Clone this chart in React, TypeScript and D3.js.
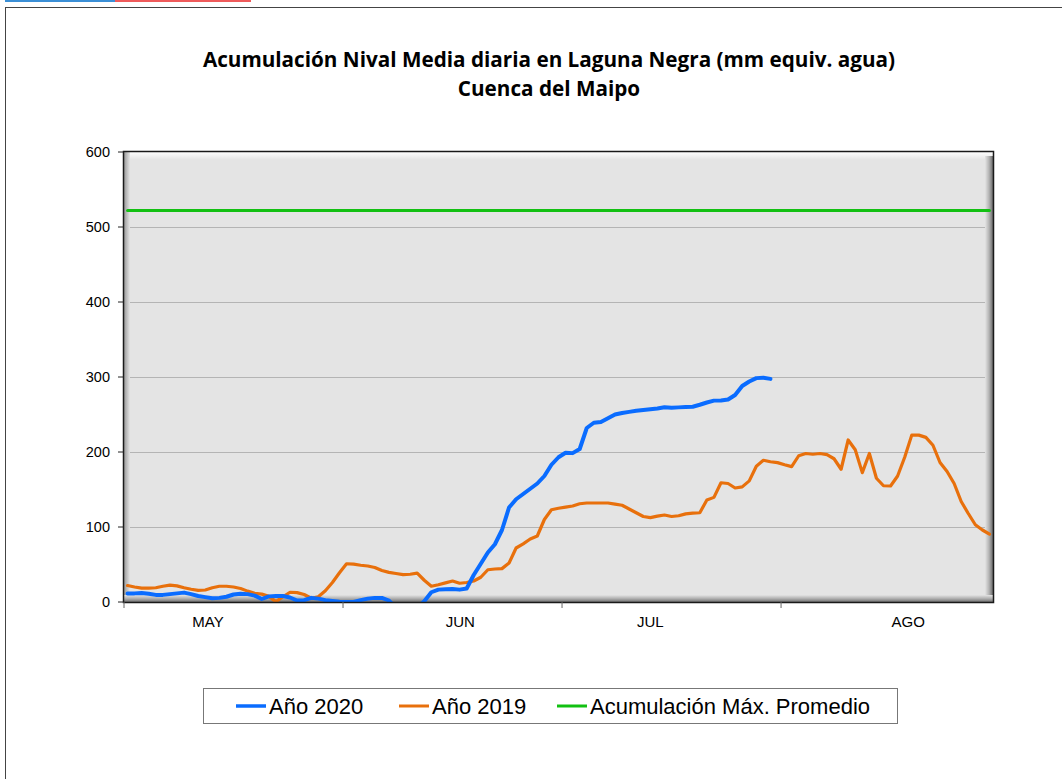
import React from 'react';
import * as d3 from 'd3';

// days from 1 May, one value per day (mm equiv. agua)
const serie2020 = [
  11.5, 11.5, 12, 11, 9.5, 9.5, 10.5, 11.5, 12.5, 10.5,
  8, 6.5, 5, 5.5, 7, 10, 11, 10.5, 8.5, 4,
  7.5, 8, 8, 6, 2, 2.5, 5.5, 4.5, 2.5, 1.5,
  0.5, 0, 0, 2.5, 4.5, 5.5, 5.5, 2, -8, -10,
  -10, -8, 1, 13, 16.5, 17, 17.3, 16.5, 18, 36,
  51, 66, 77, 96, 126, 137, 144, 151, 158, 168,
  183, 193, 199, 198.5, 204, 232, 239, 240, 245, 250,
  252, 253.5, 255, 256, 257, 258, 259.6, 259, 259.5, 260,
  260.4, 263, 266, 268.5, 268.7, 270, 276, 288, 294, 298.5,
  299, 297.5,
];

const serie2019 = [
  22, 20, 18.5, 18.5, 19, 21, 22.5, 21.5, 19, 17,
  15.5, 16, 19, 21, 21, 20, 18, 14.5, 11.5, 10.5,
  7.5, 0.5, 7, 13, 12.5, 10, 5, 7, 15, 26,
  39, 51, 50.5, 49, 48, 46, 42, 39.5, 38, 36.5,
  37, 38.5, 29, 21, 23, 25.5, 28, 25, 26, 28,
  33, 43, 44, 44.5, 52, 72, 77.5, 84, 88, 110,
  123, 125, 126.5, 128, 131, 132, 132, 132, 132, 130.5,
  129, 124, 119, 114, 112.5, 114.5, 116, 114, 115, 117.5,
  118.5, 119, 136, 139.5, 159, 158, 152, 153.5, 161.5, 181,
  189, 187, 185.8, 183, 180.5, 195, 198, 197, 198, 196.5,
  191, 177, 216, 203, 172.5, 198, 165, 155, 154.7, 168,
  193, 222.5, 222.5, 219.5, 209, 186, 174, 158, 134, 118,
  103, 96, 90.5,
];

const maxPromedio = 522;
const nDays = 123;

const monthLabels = ['MAY', 'JUN', 'JUL', 'AGO'];
const monthLabelPos = [11.9, 47.6, 74.5, 111];
const monthTickPos = [0, 31, 62, 93];
const yTicks = [0, 100, 200, 300, 400, 500, 600];

const legendItems = [
  { label: 'Año 2020', color: '#0a6cff', width: 3.5 },
  { label: 'Año 2019', color: '#e8700c', width: 3 },
  { label: 'Acumulación Máx. Promedio', color: '#12c012', width: 3 },
];

export default function App() {
  const W = 1062, H = 779;
  const left = 124, right = 993, top = 152, bottom = 602;

  const x = d3.scaleLinear().domain([0, nDays]).range([left, right]);
  const y = d3.scaleLinear().domain([0, 600]).range([bottom, top]);

  const line = d3.line<number>()
    .x((d, i) => x(i + 0.5))
    .y(d => y(d));

  const sans = '"Liberation Sans", Arial, sans-serif';
  const titleFont = '"Open Sans", "Noto Sans", sans-serif';

  return (
    <svg width={W} height={H} style={{ position: 'absolute', left: 0, top: 0 }}
      fontFamily={sans}>
      <defs>
        <linearGradient id="bevTop" x1="0" y1="0" x2="0" y2="1">
          <stop offset="0" stopColor="#ffffff" />
          <stop offset="1" stopColor="#e4e4e4" />
        </linearGradient>
        <linearGradient id="bevBot" x1="0" y1="0" x2="0" y2="1">
          <stop offset="0" stopColor="#e4e4e4" />
          <stop offset="0.5" stopColor="#b0b0b0" />
          <stop offset="1" stopColor="#707070" />
        </linearGradient>
        <linearGradient id="bevLeft" x1="0" y1="0" x2="1" y2="0">
          <stop offset="0" stopColor="#9a9a9a" />
          <stop offset="1" stopColor="#e4e4e4" />
        </linearGradient>
        <linearGradient id="bevRight" x1="0" y1="0" x2="1" y2="0">
          <stop offset="0" stopColor="#e4e4e4" />
          <stop offset="0.5" stopColor="#b4b4b4" />
          <stop offset="1" stopColor="#6a6a6a" />
        </linearGradient>
        <clipPath id="plotClip">
          <rect x={left} y={top} width={right - left} height={bottom - top + 1} />
        </clipPath>
      </defs>

      <rect x={0} y={0} width={W} height={H} fill="#fff" />
      {/* page decor */}
      <rect x={5} y={0} width={110} height={2} fill="#3a8fd6" />
      <rect x={115} y={0} width={136} height={2} fill="#ef5b5b" />
      <rect x={5.5} y={7.5} width={W + 20} height={H + 20} fill="none" stroke="#444" strokeWidth={1} />

      {/* title */}
      <text x={549} y={67} textAnchor="middle" fontFamily={titleFont}
        fontWeight="bold" fontSize={20.7} fill="#000">
        Acumulación Nival Media diaria en Laguna Negra (mm equiv. agua)
      </text>
      <text x={549} y={96} textAnchor="middle" fontFamily={titleFont}
        fontWeight="bold" fontSize={20.7} fill="#000">
        Cuenca del Maipo
      </text>

      {/* plot area */}
      <rect x={left} y={top} width={right - left} height={bottom - top} fill="#e4e4e4" />
      <rect x={left} y={top} width={right - left} height={8} fill="url(#bevTop)" />
      <rect x={left} y={top} width={6} height={bottom - top} fill="url(#bevLeft)" />
      <rect x={right - 8} y={top + 4} width={8} height={bottom - top - 4} fill="url(#bevRight)" />
      <rect x={left} y={bottom - 7} width={right - left} height={7} fill="url(#bevBot)" />

      {yTicks.filter(t => t > 0 && t < 600).map(t => (
        <line key={t} x1={left + 6} x2={right - 8} y1={y(t) + 0.5} y2={y(t) + 0.5}
          stroke="#b4b4b4" strokeWidth={1} />
      ))}

      <g clipPath="url(#plotClip)" fill="none" strokeLinejoin="round" strokeLinecap="round">
        <line x1={x(0.5)} x2={x(nDays - 0.5)} y1={y(maxPromedio)} y2={y(maxPromedio)}
          stroke="#12c012" strokeWidth={3} />
        <path d={line(serie2019) || ''} stroke="#e8700c" strokeWidth={3.2} />
        <path d={line(serie2020) || ''} stroke="#0a6cff" strokeWidth={4} />
      </g>

      <rect x={left - 0.5} y={top - 0.5} width={right - left + 1} height={bottom - top + 1}
        fill="none" stroke="#1a1a1a" strokeWidth={1.5} />

      {/* y axis */}
      {yTicks.map(t => (
        <g key={t}>
          <line x1={left - 6} x2={left} y1={y(t)} y2={y(t)} stroke="#222" strokeWidth={1} />
          <text x={110} y={y(t)} dy="0.35em" textAnchor="end" fontSize={14.5} fill="#000">{t}</text>
        </g>
      ))}

      {/* x axis */}
      {monthTickPos.map(p => (
        <line key={p} x1={x(p)} x2={x(p)} y1={bottom} y2={bottom + 6} stroke="#666" strokeWidth={1} />
      ))}
      {monthLabels.map((m, i) => (
        <text key={m} x={x(monthLabelPos[i])} y={627} textAnchor="middle" fontSize={15} fill="#000">{m}</text>
      ))}

      {/* legend */}
      <rect x={203.5} y={688.5} width={694} height={35} fill="#fff" stroke="#777" strokeWidth={1} />
      {legendItems.map((it, i) => {
        const lx = [236, 399, 557][i];
        return (
          <g key={it.label}>
            <line x1={lx} x2={lx + 30} y1={706} y2={706} stroke={it.color} strokeWidth={it.width} />
            <text x={lx + 33} y={714} fontSize={22} fill="#000">{it.label}</text>
          </g>
        );
      })}
    </svg>
  );
}
